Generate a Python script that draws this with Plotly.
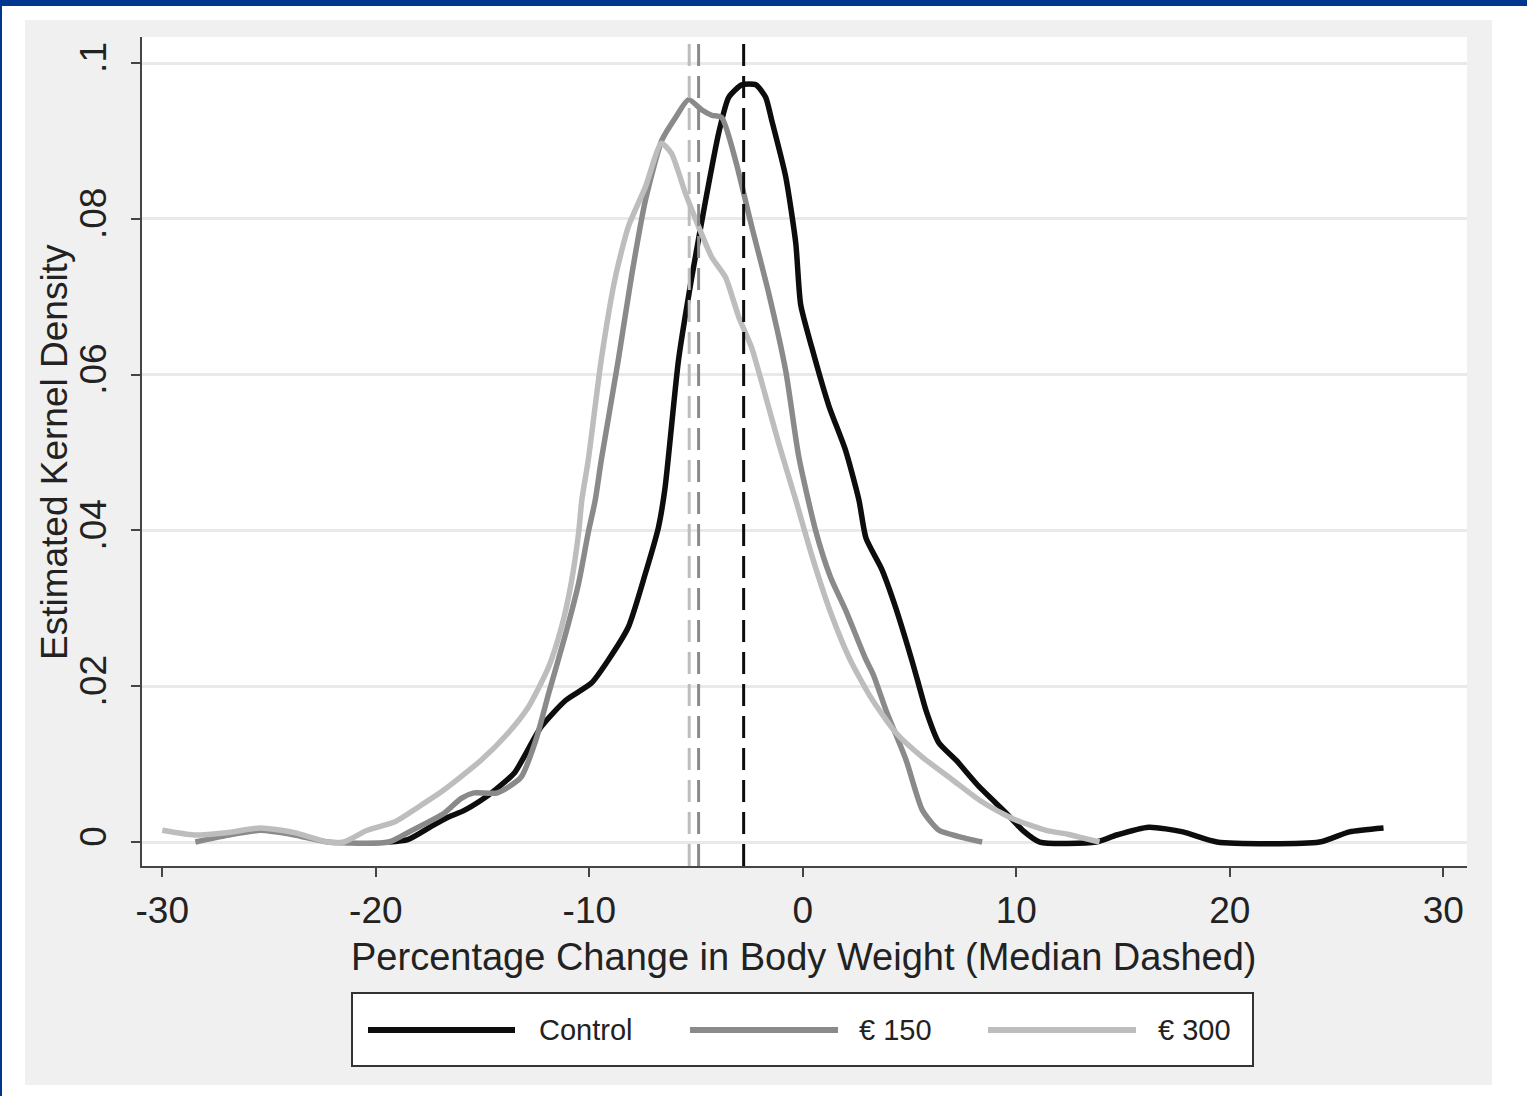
import plotly.graph_objects as go

# ---------------- data ----------------
control_x = [-19.4, -18.5, -17.4, -16.6, -15.9, -15.1, -14.4, -13.5, -12.25, -11.1,
             -9.9, -9.1, -8.17, -7.37, -6.76, -6.45, -5.82, -5.2, -4.55, -3.94,
             -3.47, -2.86, -2.2, -1.74, -1.46, -0.8, -0.33, -0.1, 0.42, 1.22,
             2.0, 2.63, 2.96, 3.7, 4.3, 5.1, 5.45, 5.77, 6.38, 7.18,
             8.26, 9.53, 10.3, 11.1, 13.75, 14.7, 16.2, 17.8, 19.4, 24.2,
             25.6, 27.2]
control_y = [0.0, 0.0003, 0.0020, 0.0032, 0.0040, 0.0053, 0.0067, 0.0089, 0.0148, 0.0182,
             0.0204, 0.0234, 0.0276, 0.0345, 0.0404, 0.0455, 0.0619, 0.0725, 0.0824, 0.0910,
             0.0956, 0.0972, 0.0972, 0.0956, 0.0927, 0.0854, 0.0769, 0.0690, 0.0635, 0.0560,
             0.0503, 0.0439, 0.0390, 0.0350, 0.0305, 0.0234, 0.0200, 0.0169, 0.0127, 0.0105,
             0.0071, 0.0037, 0.0015, 0.0, 0.0, 0.0009, 0.0019, 0.0013, 0.0, 0.0,
             0.0013, 0.0018]

eur150_x = [-28.45, -26.9, -25.4, -23.8, -22.25, -19.4, -18.3, -16.8, -16.0, -15.4,
            -14.3, -13.2, -12.5, -11.9, -11.1, -10.5, -10.05, -9.72, -9.44, -8.64,
            -8.03, -7.37, -6.6, -5.96, -5.35, -4.74, -4.27, -3.8, -3.15, -2.39,
            -1.6, -0.8, -0.19, 0.6, 1.3, 2.0, 2.96, 3.3, 3.9, 4.84,
            5.6, 6.38, 7.3, 8.4]
eur150_y = [0.0, 0.0009, 0.0015, 0.0009, 0.0, 0.0, 0.0015, 0.0037, 0.0056, 0.0063,
            0.0063, 0.0083, 0.0131, 0.0191, 0.0268, 0.0332, 0.0397, 0.0439, 0.0490, 0.0619,
            0.0725, 0.0824, 0.0901, 0.0930, 0.0953, 0.0940, 0.0933, 0.0930, 0.0875, 0.0790,
            0.0705, 0.0605, 0.0495, 0.0400, 0.0340, 0.0298, 0.0234, 0.0215, 0.0169, 0.0105,
            0.0041, 0.0015, 0.0007, 0.0]

eur300_x = [-30.0, -28.5, -27.0, -25.4, -23.8, -22.25, -21.5, -20.4, -19.1, -18.0,
            -16.8, -15.07, -13.8, -12.86, -11.9, -11.3, -10.85, -10.5, -10.35, -10.05,
            -9.44, -8.78, -8.17, -7.37, -6.62, -6.15, -5.5, -4.88, -4.27, -3.62,
            -3.0, -2.4, -1.8, -1.13, -0.33, 0.42, 1.3, 2.2, 3.2, 4.37,
            5.6, 7.0, 8.26, 9.53, 10.0, 11.4, 12.4, 13.0, 13.9]
eur300_y = [0.0015, 0.0009, 0.0012, 0.0018, 0.0012, 0.0, 0.0, 0.0015, 0.0026, 0.0045,
            0.0067, 0.0105, 0.0140, 0.0173, 0.0225, 0.0276, 0.0332, 0.0397, 0.0439, 0.0490,
            0.0619, 0.0725, 0.0790, 0.0841, 0.0897, 0.0884, 0.0833, 0.0790, 0.0751, 0.0725,
            0.0674, 0.0635, 0.0578, 0.0512, 0.0439, 0.0368, 0.0295, 0.0235, 0.0185, 0.0140,
            0.0109, 0.0080, 0.0054, 0.0034, 0.0028, 0.0015, 0.0010, 0.0006, 0.0]

series_names = ["Control", "\u20ac 150", "\u20ac 300"]
medians = [-2.77, -4.88, -5.32]

x_ticks = [-30, -20, -10, 0, 10, 20, 30]
x_ticktext = ["-30", "-20", "-10", "0", "10", "20", "30"]
y_ticks = [0, 0.02, 0.04, 0.06, 0.08, 0.1]
y_ticktext = ["0", ".02", ".04", ".06", ".08", ".1"]

x_title = "Percentage Change in Body Weight (Median Dashed)"
y_title = "Estimated Kernel Density"

# ---------------- style ----------------
colors = ["#0d0d0d", "#8a8a8a", "#bdbdbd"]
FONT = "Liberation Sans, Arial, sans-serif"
TXT = "#222222"
AX = "#454545"

fig = go.Figure()
for xs, ys, name, col in zip([control_x, eur150_x, eur300_x],
                             [control_y, eur150_y, eur300_y],
                             series_names, colors):
    fig.add_trace(go.Scatter(x=xs, y=ys, mode="lines", name=name,
                             line=dict(color=col, width=5.5, shape="spline", smoothing=0.6),
                             showlegend=False, hoverinfo="skip"))

# geometry helpers (plot area: x 142..1467, y 37..866 px)
L, R, T, B = 142, 1467, 37, 866
W, H = R - L, B - T
def px(v):
    return (v - L) / W
def py(v):
    return (B - v) / H

shapes = []
# outer graph region (light gray) and inner plot region (white)
shapes.append(dict(type="rect", xref="paper", yref="paper", layer="below",
                   x0=px(25), x1=px(1492), y0=py(1085), y1=py(20),
                   fillcolor="#f0f0f0", line=dict(width=0)))
shapes.append(dict(type="rect", xref="paper", yref="paper", layer="below",
                   x0=0, x1=1, y0=0, y1=1, fillcolor="#ffffff", line=dict(width=0)))
# blue frame strips
shapes.append(dict(type="rect", xref="paper", yref="paper", layer="above",
                   x0=px(0), x1=px(1527), y0=py(6), y1=py(0),
                   fillcolor="#003590", line=dict(width=0)))
shapes.append(dict(type="rect", xref="paper", yref="paper", layer="above",
                   x0=px(0), x1=px(2), y0=py(1096), y1=py(0),
                   fillcolor="#003590", line=dict(width=0)))

# median dashed lines
for m, col in zip(medians, colors):
    shapes.append(dict(type="line", xref="x", yref="paper", x0=m, x1=m, y0=0, y1=1,
                       line=dict(color=col, width=3, dash="22px,10px"), layer="above"))

# legend box
shapes.append(dict(type="rect", xref="paper", yref="paper",
                   x0=px(352), x1=px(1253), y0=py(1066), y1=py(993),
                   fillcolor="#ffffff", line=dict(color="#333333", width=2)))
leg_line = [(368, 515), (690, 838), (988, 1136)]
leg_text = [537, 857, 1156]
annotations = []
for (a, b), tx, name, col in zip(leg_line, leg_text, series_names, colors):
    shapes.append(dict(type="line", xref="paper", yref="paper",
                       x0=px(a), x1=px(b), y0=py(1030), y1=py(1030),
                       line=dict(color=col, width=6)))
    annotations.append(dict(xref="paper", yref="paper", x=px(tx), y=py(1030),
                            text=name, showarrow=False, xanchor="left", yanchor="middle",
                            font=dict(family=FONT, size=29, color=TXT)))

# axis titles
annotations.append(dict(xref="paper", yref="paper", x=px(55), y=py(452),
                        text=y_title, textangle=-90, showarrow=False,
                        xanchor="center", yanchor="middle",
                        font=dict(family=FONT, size=37, color=TXT)))
annotations.append(dict(xref="paper", yref="paper", x=px(804), y=py(957),
                        text=x_title, showarrow=False,
                        xanchor="center", yanchor="middle",
                        font=dict(family=FONT, size=38, color=TXT)))

fig.update_layout(
    width=1527, height=1096,
    margin=dict(l=L, r=1527 - R, t=T, b=1096 - B),
    paper_bgcolor="#ffffff", plot_bgcolor="#ffffff",
    shapes=shapes, annotations=annotations,
    font=dict(family=FONT, size=37, color=TXT),
    showlegend=False,
)
fig.update_xaxes(range=[-30.95, 31.11], tickvals=x_ticks, ticktext=x_ticktext,
                 ticks="outside", ticklen=9,
                 tickwidth=2, tickcolor=AX, showline=True, linecolor=AX, linewidth=2,
                 showgrid=False, zeroline=False, ticklabelstandoff=2,
                 tickfont=dict(family=FONT, size=37, color=TXT))
fig.update_yaxes(range=[-0.00308, 0.10334], tickvals=y_ticks, ticktext=y_ticktext,
                 tickangle=-90, ticks="outside", ticklen=9, tickwidth=2, tickcolor=AX,
                 showline=True, linecolor=AX, linewidth=2,
                 showgrid=True, gridcolor="#e9e9e9", gridwidth=2.5, zeroline=False,
                 ticklabelstandoff=10,
                 tickfont=dict(family=FONT, size=37, color=TXT))

fig.write_html("out.html")
